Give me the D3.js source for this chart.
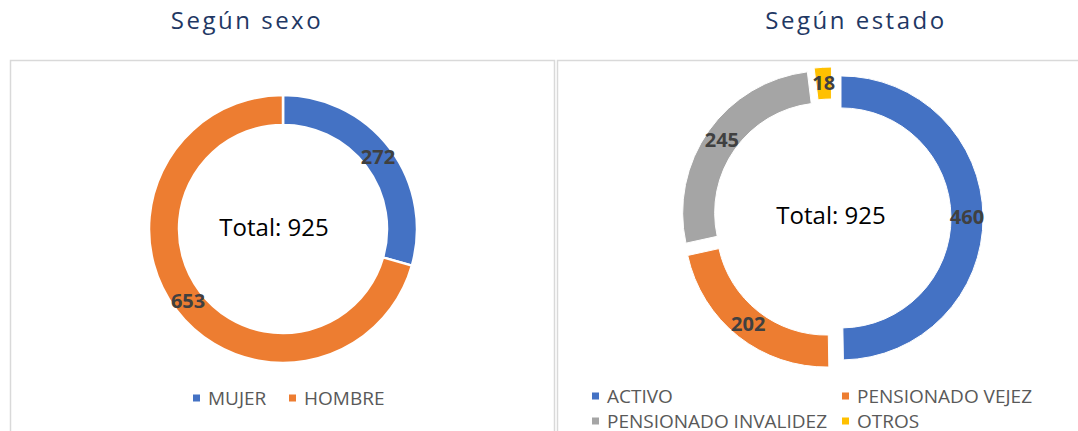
<!DOCTYPE html>
<html>
<head>
<meta charset="utf-8">
<script src="https://cdn.jsdelivr.net/npm/d3@7"></script>
<style>
  body { margin: 0; background: #fff; }
  text { font-family: "Open Sans", "Noto Sans", sans-serif; }
</style>
</head>
<body>
<div id="chart"></div>
<script>
// data
var sexoLabels = ["MUJER", "HOMBRE"];
var sexoValues = [272, 653];
var estadoLabels = ["ACTIVO", "PENSIONADO VEJEZ", "PENSIONADO INVALIDEZ", "OTROS"];
var estadoValues = [460, 202, 245, 18];
var totalLabel = "Total: 925";

var colors = ["#4472C4", "#ED7D31", "#A5A5A5", "#FFC000"];

var width = 1078, height = 431;

var svg = d3.select("#chart").append("svg")
	.attr("width", width)
	.attr("height", height);

// panel borders
svg.append("rect")
	.attr("x", 10.5).attr("y", 60.5)
	.attr("width", 544).attr("height", 390)
	.attr("fill", "none").attr("stroke", "#d9d9d9").attr("stroke-width", 1.5);
svg.append("rect")
	.attr("x", 557.5).attr("y", 60.5)
	.attr("width", 540).attr("height", 390)
	.attr("fill", "none").attr("stroke", "#d9d9d9").attr("stroke-width", 1.5);

// titles
svg.append("text")
	.attr("x", 247).attr("y", 29)
	.attr("text-anchor", "middle")
	.style("font-size", "24px")
	.style("letter-spacing", "2.5px")
	.style("fill", "#1F3864")
	.text("Según sexo");
svg.append("text")
	.attr("x", 856).attr("y", 29)
	.attr("text-anchor", "middle")
	.style("font-size", "24px")
	.style("letter-spacing", "2.5px")
	.style("fill", "#1F3864")
	.text("Según estado");

var pie = d3.pie().sort(null).value(function(d){ return d; });

function donut(values, cx, cy, outer, inner, explode, strokeW) {
	var arc = d3.arc().innerRadius(inner).outerRadius(outer);
	var labelArc = d3.arc().innerRadius((inner + outer) / 2).outerRadius((inner + outer) / 2);
	var g = svg.append("g").attr("transform", "translate(" + cx + "," + cy + ")");
	var arcs = pie(values);

	function offset(d) {
		var a = (d.startAngle + d.endAngle) / 2;
		return [explode * Math.sin(a), -explode * Math.cos(a)];
	}

	g.selectAll("path")
		.data(arcs)
		.enter().append("path")
		.attr("d", arc)
		.attr("transform", function(d){ var o = offset(d); return "translate(" + o[0] + "," + o[1] + ")"; })
		.attr("fill", function(d, i){ return colors[i]; })
		.attr("stroke", "#fff")
		.attr("stroke-width", strokeW);

	g.selectAll("text.lbl")
		.data(arcs)
		.enter().append("text")
		.attr("class", "lbl")
		.attr("transform", function(d){
			var c = labelArc.centroid(d), o = offset(d);
			return "translate(" + (c[0] + o[0]) + "," + (c[1] + o[1]) + ")";
		})
		.attr("text-anchor", "middle")
		.attr("dy", "0.35em")
		.style("font-size", "20px")
		.style("font-weight", "bold")
		.style("fill", "#404040")
		.text(function(d){ return d.data; });
	return g;
}

donut(sexoValues, 283, 229, 134, 104, 0, 2.5);
donut(estadoValues, 832, 218, 142, 110, 9, 1);

svg.append("text")
	.attr("x", 274).attr("y", 228).attr("dy", "0.35em")
	.attr("text-anchor", "middle")
	.style("font-size", "24px").style("fill", "#000")
	.text(totalLabel);
svg.append("text")
	.attr("x", 831).attr("y", 216).attr("dy", "0.35em")
	.attr("text-anchor", "middle")
	.style("font-size", "24px").style("fill", "#000")
	.text(totalLabel);

// legends
function legend(labels, pos) {
	var g = svg.append("g");
	var item = g.selectAll("g")
		.data(labels)
		.enter().append("g")
		.attr("transform", function(d, i){ return "translate(" + pos[i][0] + "," + pos[i][1] + ")"; });
	item.append("rect")
		.attr("x", 0).attr("y", -3.5)
		.attr("width", 7).attr("height", 7)
		.attr("fill", function(d, i){ return colors[i]; });
	item.append("text")
		.attr("x", 15).attr("dy", "0.36em")
		.style("font-size", "19px")
		.style("fill", "#595959")
		.text(function(d){ return d; });
}

legend(sexoLabels, [[193, 398], [289, 398]]);
legend(estadoLabels, [[592, 396], [842, 396], [592, 421], [842, 421]]);
</script>
</body>
</html>
